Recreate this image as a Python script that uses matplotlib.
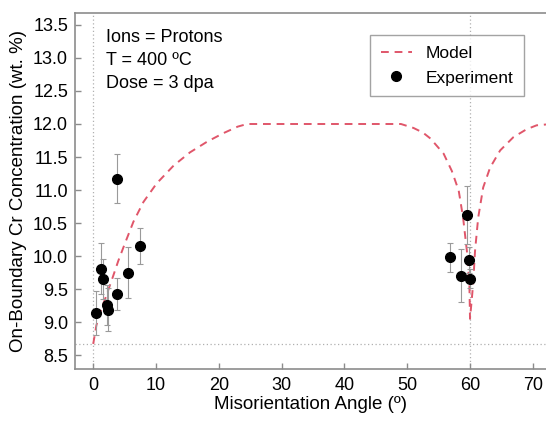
import matplotlib.pyplot as plt

plt.rcParams['font.family'] = ['Liberation Sans', 'DejaVu Sans']

# Model curve: on-boundary Cr vs misorientation angle
model_angle = [0, 0.5, 1.0, 2.0, 3.0, 4.0, 5.0, 6.4, 8.0, 10.1, 12.8, 15.4, 18.1,
               20.7, 23.0, 24.5, 49.0, 51.0, 52.5, 53.7, 55.8, 57.1, 58.2, 58.9, 59.5,
               59.9, 60.0, 60.5, 60.8, 61.3, 62.1, 63.2, 64.8, 66.9, 69.0, 70.6, 73.0]
model_cr = [8.67, 8.95, 9.12, 9.38, 9.65, 9.93, 10.18, 10.52, 10.82, 11.10, 11.37,
            11.57, 11.73, 11.86, 11.96, 12.0, 12.0, 11.94, 11.87, 11.78, 11.55, 11.29,
            10.99, 10.58, 10.08, 9.58, 9.05, 9.58, 10.08, 10.58, 11.04, 11.34,
            11.60, 11.80, 11.92, 11.98, 12.0]

# Measured points with error bars
exp_angle = [0.5, 1.3, 1.5, 2.2, 2.3, 3.8, 3.8, 5.6, 7.4, 56.8, 58.5, 59.5, 59.8, 60.0]
exp_cr = [9.14, 9.81, 9.65, 9.26, 9.19, 9.43, 11.17, 9.75, 10.15, 9.98, 9.70, 10.62, 9.94, 9.66]
exp_err = [0.33, 0.39, 0.30, 0.30, 0.33, 0.24, 0.37, 0.38, 0.27, 0.22, 0.40, 0.44, 0.20, 0.15]

baseline = 8.67
x_ticks = [0, 10, 20, 30, 40, 50, 60, 70]
y_ticks = [8.5, 9.0, 9.5, 10.0, 10.5, 11.0, 11.5, 12.0, 12.5, 13.0, 13.5]

fig = plt.figure(figsize=(5.46, 4.21), dpi=100)
ax = fig.add_axes([0.1374, 0.1235, 0.8626, 0.8455])

grey = '#8c8c8c'
ax.axvline(0, color='#b0b0b0', lw=0.9, ls=(0, (1, 2)), zorder=0)
ax.axvline(60, color='#b0b0b0', lw=0.9, ls=(0, (1, 2)), zorder=0)
ax.axhline(baseline, color='#b0b0b0', lw=0.9, ls=(0, (1, 2)), zorder=0)

ax.plot(model_angle, model_cr, color='#e0566a', lw=1.4, ls=(0, (4, 3)),
        label='Model', zorder=2)
ax.errorbar(exp_angle, exp_cr, yerr=exp_err, fmt='none', ecolor='#9a9a9a',
            elinewidth=0.8, capsize=2.5, capthick=0.8, zorder=3)
ax.plot(exp_angle, exp_cr, 'o', color='black', ms=7, ls='none',
        label='Experiment', zorder=4)

ax.set_xlim(-2.9, 72.1)
ax.set_ylim(8.29, 13.68)
ax.set_xticks(x_ticks)
ax.set_yticks(y_ticks)
ax.set_yticklabels([f'{v:.1f}' for v in y_ticks])

for side in ['left', 'bottom', 'top']:
    ax.spines[side].set_color(grey)
    ax.spines[side].set_linewidth(1.2)
ax.spines['right'].set_visible(False)
ax.tick_params(direction='in', length=4, width=1, color=grey,
               labelsize=13, pad=5)
ax.tick_params(axis='x', pad=6)

ax.set_xlabel('Misorientation Angle (º)', fontsize=13.5, labelpad=1)
ax.set_ylabel('On-Boundary Cr Concentration (wt. %)', fontsize=13.5, labelpad=4)

ax.text(0.065, 0.955, 'Ions = Protons\nT = 400 ºC\nDose = 3 dpa',
        transform=ax.transAxes, fontsize=13, va='top', ha='left',
        linespacing=1.45)

leg = ax.legend(loc='upper right', bbox_to_anchor=(0.972, 0.962), fontsize=12.5,
                frameon=True, fancybox=False, edgecolor=grey, handlelength=1.8,
                borderpad=0.6, labelspacing=0.55, handletextpad=0.8)
leg.get_frame().set_linewidth(1.0)

fig.savefig('out.png', dpi=100)
